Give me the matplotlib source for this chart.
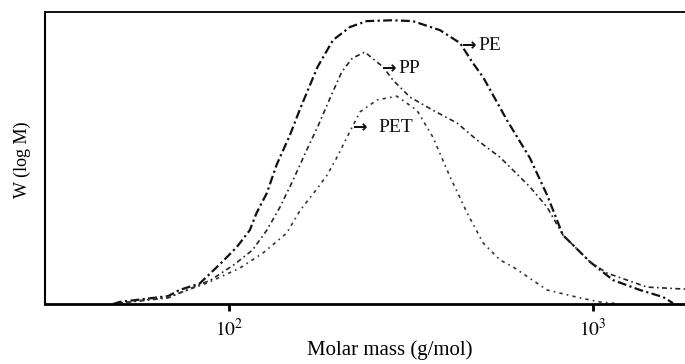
import matplotlib
matplotlib.use("Agg")
import matplotlib.pyplot as plt

# Molar mass distributions, W(log M) normalised to the axes height
pe_mass = [48, 50, 68, 73, 83, 95, 105, 114, 119, 127, 135, 147, 157, 175, 193,
           215, 239, 280, 320, 380, 431, 468, 499, 580, 671, 748, 827, 982, 1135,
           1346, 1557, 1659]
pe_w = [0.0, 0.007, 0.027, 0.048, 0.070, 0.140, 0.195, 0.253, 0.312, 0.380,
        0.476, 0.579, 0.671, 0.812, 0.904, 0.949, 0.969, 0.972, 0.969, 0.938,
        0.894, 0.825, 0.777, 0.630, 0.5, 0.373, 0.236, 0.144, 0.082, 0.048,
        0.024, 0.003]

pp_mass = [48, 50, 68, 89, 103, 116, 127, 138, 150, 162, 176, 190, 204, 218,
           236, 265, 282, 314, 363, 423, 480, 555, 671, 748, 827, 982, 1093, 1407,
           1790]
pp_w = [0.0, 0.003, 0.021, 0.082, 0.134, 0.185, 0.253, 0.332, 0.425, 0.517,
        0.613, 0.709, 0.795, 0.842, 0.863, 0.812, 0.767, 0.709, 0.664, 0.620,
        0.562, 0.503, 0.401, 0.332, 0.236, 0.144, 0.106, 0.058, 0.051]

pet_mass = [48, 50, 68, 87, 107, 124, 144, 157, 175, 186, 198, 211, 229, 255,
            289, 328, 363, 405, 451, 499, 555, 603, 748, 921, 1045, 1187]
pet_w = [0.0, 0.003, 0.024, 0.072, 0.123, 0.175, 0.243, 0.322, 0.397, 0.442,
         0.503, 0.572, 0.658, 0.699, 0.712, 0.664, 0.572, 0.435, 0.312, 0.209,
         0.151, 0.127, 0.048, 0.021, 0.007, 0.0]

names = ["PE", "PP", "PET"]
name_pos = [(437, 0.887), (263, 0.808), (219, 0.606)]
name_offset = [11.5, 12, 18]   # points from arrow start to the name

plt.rcParams["font.family"] = ["Liberation Serif", "DejaVu Serif"]
plt.rcParams["mathtext.fontset"] = "stix"

fig = plt.figure(figsize=(6.85, 3.64), dpi=100)
ax = fig.add_axes([0.0657, 0.1648, 0.9343, 0.802])

ax.plot(pe_mass, pe_w, color="#111111", lw=1.6, dashes=(4, 1.5, 1, 1.5))
ax.plot(pp_mass, pp_w, color="#262626", lw=1.2, dashes=(3, 2, 1, 2))
ax.plot(pet_mass, pet_w, color="#333333", lw=1.2, dashes=(2, 2.5, 1, 2.5))

for name, (xm, yw), off in zip(names, name_pos, name_offset):
    ax.text(xm, yw, "\u2192", ha="left", va="center", fontsize=12.5,
            family="DejaVu Sans", fontweight="bold", color="#111")
    ax.annotate(name, xy=(xm, yw), xytext=(off, 0), textcoords="offset points",
                ha="left", va="center", fontsize=14, color="#111")

ax.set_xscale("log")
ax.set_xlim(31.2, 1790)
ax.set_ylim(0, 1.0)
ax.set_xticks([100, 1000])
ax.set_xticklabels([r"$10^2$", r"$10^3$"], fontsize=14)
ax.xaxis.set_minor_locator(matplotlib.ticker.NullLocator())
ax.set_yticks([])
ax.tick_params(axis="x", direction="out", length=5, width=2, pad=5)

ax.spines["right"].set_visible(False)
ax.spines["top"].set_linewidth(1.3)
ax.spines["left"].set_linewidth(1.5)
ax.spines["bottom"].set_linewidth(2.0)

fig.text(0.569, 0.037, "Molar mass (g/mol)", ha="center", va="center", fontsize=15)
fig.text(0.032, 0.56, "W (log M)", ha="center", va="center", rotation=90, fontsize=13)

fig.savefig("out.png", dpi=100)
